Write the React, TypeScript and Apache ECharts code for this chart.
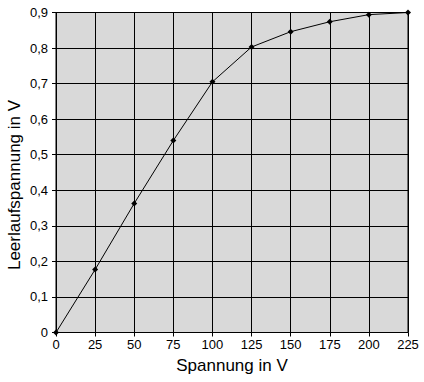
import React, { useEffect, useRef } from "react";
import * as echarts from "echarts";

const voltages = [0, 25, 50, 75, 100, 125, 150, 175, 200, 225];
const openCircuit = [0, 0.177, 0.363, 0.54, 0.705, 0.803, 0.846, 0.874, 0.894, 0.9];
const xTitle = "Spannung in V";
const yTitle = "Leerlaufspannung in V";

export default function App() {
  const ref = useRef<HTMLDivElement>(null);
  useEffect(() => {
    if (!ref.current) return;
    const chart = echarts.init(ref.current, null, { renderer: "svg" });
    const font = "Liberation Sans, Arial, sans-serif";
    chart.setOption({
      animation: false,
      backgroundColor: "#ffffff",
      grid: {
        left: 56,
        right: 16,
        top: 12.5,
        bottom: 49.5,
        show: true,
        backgroundColor: "#d9d9d9",
        borderColor: "#000",
        borderWidth: 1,
      },
      graphic: [
        {
          type: "text",
          x: 14,
          y: 185,
          rotation: Math.PI / 2,
          style: {
            text: yTitle,
            fontFamily: font,
            fontSize: 17,
            fill: "#000",
            align: "center",
            verticalAlign: "middle",
          },
        },
      ],
      xAxis: {
        type: "value",
        min: 0,
        max: 225,
        interval: 25,
        name: xTitle,
        nameLocation: "middle",
        nameGap: 24,
        nameTextStyle: { fontFamily: font, fontSize: 17, color: "#000" },
        axisLine: { show: true, lineStyle: { color: "#000", width: 1 } },
        axisTick: { show: true, length: 4, lineStyle: { color: "#000" } },
        axisLabel: { fontFamily: font, fontSize: 13, color: "#000", margin: 5 },
        splitLine: { show: true, lineStyle: { color: "#000", width: 1 } },
      },
      yAxis: {
        type: "value",
        min: 0,
        max: 0.9,
        interval: 0.1,
        axisLine: { show: true, lineStyle: { color: "#000", width: 1 } },
        axisTick: { show: true, length: 4, lineStyle: { color: "#000" } },
        axisLabel: {
          fontFamily: font,
          fontSize: 13,
          color: "#000",
          margin: 8,
          formatter: (v: number) => (Math.round(v * 10) / 10).toString().replace(".", ","),
        },
        splitLine: { show: true, lineStyle: { color: "#000", width: 1 } },
      },
      series: [
        {
          type: "line",
          data: voltages.map((x, i) => [x, openCircuit[i]]),
          symbol: "diamond",
          symbolSize: 6,
          itemStyle: { color: "#000" },
          lineStyle: { color: "#000", width: 1 },
          clip: false,
        },
      ],
    });
    return () => chart.dispose();
  }, []);
  return (
    <div
      ref={ref}
      style={{ position: "absolute", left: 0, top: 0, width: 424, height: 382 }}
    />
  );
}
